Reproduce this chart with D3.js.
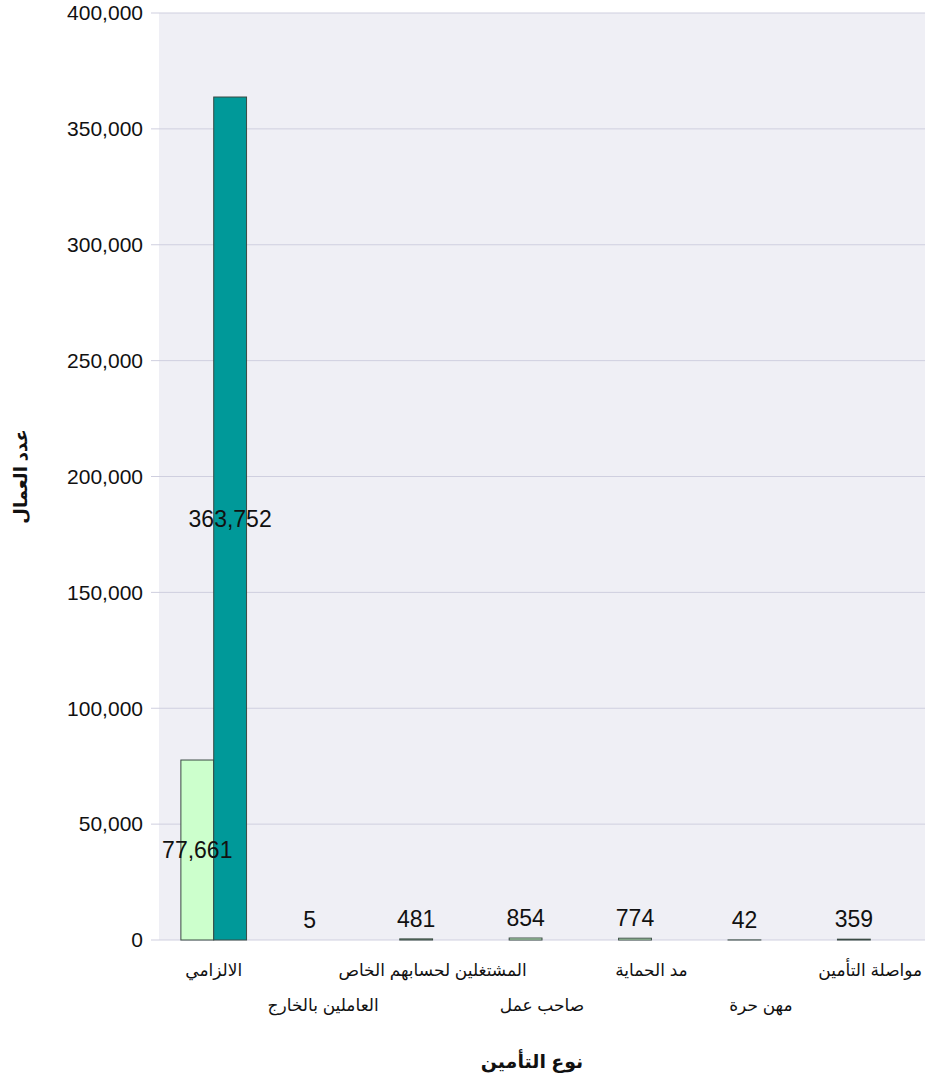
<!DOCTYPE html>
<html><head><meta charset="utf-8">
<script src="https://cdn.jsdelivr.net/npm/d3@7"></script>
<style>
body{margin:0;background:#fff;}
text{font-family:"Liberation Sans",Arial,"DejaVu Sans",sans-serif;}
</style></head>
<body><svg id="c" width="925" height="1085"></svg>
<script>
const categories = ["الالزامي","العاملين بالخارج","المشتغلين لحسابهم الخاص","صاحب عمل","مد الحماية","مهن حرة","مواصلة التأمين"];
const series1 = [77661, 5, 481, 854, 774, 42, 359];
const series2 = [363752, null, null, null, null, null, null];
const seriesColors = ["#ccffcc", "#009999"];
const yTicks = [0,50000,100000,150000,200000,250000,300000,350000,400000];
const xTitle = "نوع التأمين";
const yTitle = "عدد العمال";

const svg = d3.select("#c");
const m = {l:159, r:0, t:13, b:145};
const W = 925, H = 1085;
const iw = W-m.l-m.r, ih = H-m.t-m.b;
const g = svg.append("g").attr("transform",`translate(${m.l},${m.t})`);

g.append("rect").attr("width",iw).attr("height",ih).attr("fill","#efeff5");

const x = d3.scaleBand().domain(categories).range([0,iw]).paddingInner(0.4).paddingOuter(0.2);
const xs = d3.scaleBand().domain([0,1]).range([0,x.bandwidth()]);
const y = d3.scaleLinear().domain([0,400000]).range([ih,0]);

// grid
g.selectAll(".grid").data(yTicks).enter().append("line")
 .attr("x1",-8).attr("x2",iw).attr("y1",d=>y(d)).attr("y2",d=>y(d))
 .attr("stroke","#cfcfdf").attr("stroke-width",1);

// y axis labels
const fmt = d3.format(",");
g.selectAll(".yt").data(yTicks).enter().append("text")
 .attr("x",-16).attr("y",d=>y(d)).attr("dy","0.35em").attr("text-anchor","end")
 .attr("font-size",21).attr("fill","#111").text(d=>fmt(d));

const data = [];
categories.forEach((c,i)=>{
  [series1[i],series2[i]].forEach((v,s)=>{ if(v!=null) data.push({c,v,s}); });
});

g.selectAll(".bar").data(data.filter(d=>ih-y(d.v)>0.05)).enter().append("rect")
 .attr("x",d=>x(d.c)+xs(d.s)).attr("width",xs.bandwidth())
 .attr("y",d=>y(d.v)).attr("height",d=>ih-y(d.v))
 .attr("fill",d=>seriesColors[d.s]).attr("stroke","#3a4a44").attr("stroke-width",1);

g.selectAll(".lab").data(data).enter().append("text")
 .attr("x",d=>x(d.c)+xs(d.s)+xs.bandwidth()/2 + (d.v<10?3:0))
 .attr("y",d=>{const h=ih-y(d.v); return h>40 ? y(d.v)+h/2 : y(d.v)-12;})
 .attr("dy",d=>(ih-y(d.v))>40 ? "0.35em" : "0")
 .attr("text-anchor","middle").attr("font-size",23).attr("fill","#111")
 .text(d=>fmt(d.v));

// category labels
g.selectAll(".xl").data(categories).enter().append("text")
 .attr("x",d=>x(d)+x.bandwidth()/2)
 .attr("y",(d,i)=> ih + (i%2===0 ? 36 : 71))
 .attr("text-anchor","middle").attr("font-size",17).attr("fill","#111")
 .text(d=>d);

svg.append("text").attr("x",532).attr("y",1068).attr("text-anchor","middle")
 .attr("font-size",19).attr("font-weight","bold").attr("fill","#111").text(xTitle);
svg.append("text").attr("transform",`translate(27,${m.t+ih/2}) rotate(-90)`)
 .attr("text-anchor","middle").attr("font-size",18).attr("font-weight","bold").attr("fill","#111").text(yTitle);
</script></body></html>
